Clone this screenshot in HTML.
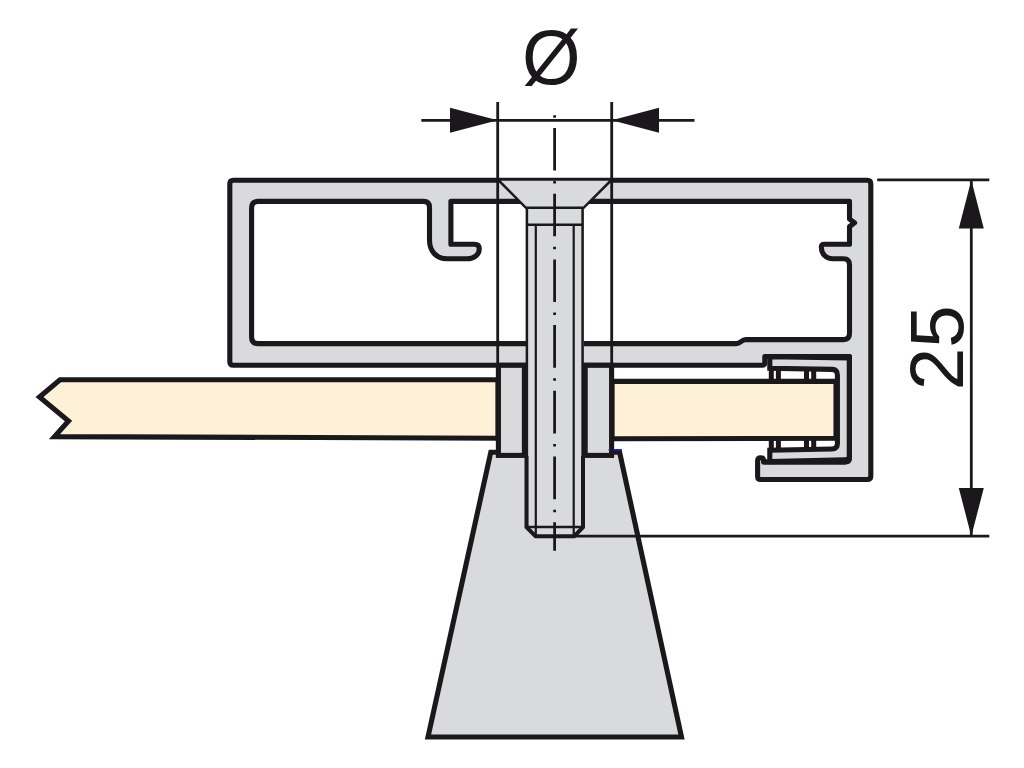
<!DOCTYPE html>
<html lang="en">
<head>
<meta charset="utf-8">
<title>Ø 25 – profile mounting section</title>
<style>
  html,body{margin:0;padding:0;background:#fff;overflow:hidden}
  body{width:1024px;height:768px;font-family:"Liberation Sans",sans-serif}
  svg{display:block}
  .k{stroke:#1b181c;stroke-width:5.1;stroke-linejoin:round;stroke-linecap:butt}
  .mi{stroke-linejoin:miter;stroke-miterlimit:10}
  .g{fill:#d9dadb}
  .c{fill:#fff0d8}
  .n{fill:none}
  .t{stroke:#1b181c;stroke-width:2.8;fill:none}
  .s{stroke:#1b181c;stroke-width:2.5;fill:none}
  .b{fill:#1b181c}
  text{font-family:"Liberation Sans",sans-serif;fill:#1b181c}
</style>
</head>
<body>
<svg width="1024" height="768" viewBox="0 0 1024 768">
  <rect width="1024" height="768" fill="#fff"/>

  <!-- base (foot) -->
  <path class="k g mi" d="M490.8 452.2 L619.6 452.2 L681.5 737 L428 737 Z"/>

  <!-- panel left -->
  <path class="k c mi" d="M498 379.8 L60 379.8 L39.5 397 L68.5 421 L54.5 436.6 L498 438.2 Z"/>
  <!-- panel right -->
  <path class="k c mi" d="M612 381.4 L836 381.4 L836 438.3 L612 438.7 Z"/>

  <!-- aluminium profile -->
  <path class="k g" fill-rule="evenodd" d="
    M233.4 180.3 H867.2 Q870.8 180.3 870.8 183.9 V475.9 Q870.8 479.5 867.2 479.5 H760.6 Q757.6 479.5 757.6 476.5 V461
    Q757.6 457.8 760.6 457.8 Q763.6 457.8 763.6 461 V462 H845 Q849.4 462 849.4 457.6 V356.5 H764.8 V362.7 Q764.8 365.3 762 365.3
    H233.4 Q229.8 365.3 229.8 361.7 V183.9 Q229.8 180.3 233.4 180.3 Z
    M258 201.4 Q251.6 201.4 251.6 207.8 V337.2 Q251.6 343.6 258 343.6 H736 Q738.6 343.6 741 341.6 Q743.4 339.6 746 339.6
    H843.6 Q849.5 339.6 849.5 333.6 V264.7 Q849.5 258.75 843.5 258.75 H833 C826 258.75 821.3 254 821.3 247.2 Q821.3 244.2 824.3 244.2 H849.5
    V226.6 L854.6 222.8 L849.5 219 V201.4 H450.9 V244.2 H474.5 Q479.3 244.2 479.3 249 C479.3 254.5 474 258.75 467 258.75 H447
    C436 258.75 429.5 251 429.5 240 V207.4 Q429.5 201.4 423.5 201.4 Z"/>

  <!-- gasket in pocket -->
  <path class="k g mi" fill-rule="evenodd" d="M769.8 356.8 L849.4 358 V456.5 Q849.4 459.6 845 459.7 L769.8 461.6 V450.3 L832 449 Q837.4 448.8 837.4 443.4 V375 Q837.4 369.6 832 369.4 L769.8 368.2 Z"/>
  <path class="k n" style="stroke-width:5" d="M771.3 368 V381.4 M778.4 368.5 V381.4 M806.5 369 V381.4 M813.7 369 V381.4 M771.3 438.4 V451 M778.4 438.4 V450 M806.5 438.4 V449.6 M813.7 438.4 V449.4"/>
  <path class="k n" d="M763.6 462 H845 Q849.4 462 849.4 457.6 V356.5 H764.8"/>

  <!-- screw body fill -->
  <path class="g" d="M498 179.4 H612 L584 207.8 V527.5 L575 536.2 H535 L526 527.5 V207.8 Z"/>
  <!-- spacer sleeves -->
  <rect class="k g mi" x="498.4" y="365.3" width="26" height="90.1"/>
  <rect class="k g mi" x="585.2" y="365.3" width="26.4" height="90.1"/>

  <!-- screw -->
  <path class="s" d="M497.7 179.4 H612 L583.6 207.8 H525.9 Z M526.9 207.8 V527.5 M582.6 207.8 V527.5 M526.9 224.7 H582.6 M526.9 527 H582.6"/>
  <path class="s" style="stroke-width:2.2" d="M535.8 224.7 V536 M573.7 224.7 V536"/>
  <path class="s mi" style="stroke-width:4" d="M526.5 456 V527.2 L535.6 536.2 H574.3 L583 527.2 V456"/>
  <path d="M608.6 449.9 H621.8" stroke="#1f1fc0" stroke-width="1.8" fill="none"/>

  <!-- extension lines for diameter -->
  <path class="t" d="M497.7 102 V455 M611.7 102 V455"/>
  <!-- diameter dimension -->
  <path class="t" d="M421.3 120.3 H694.5"/>
  <path class="b" d="M497.7 120.3 L450 107.8 V132.8 Z M611.7 120.3 L659 107.8 V132.8 Z"/>
  <!-- centre line -->
  <path class="t" stroke-dasharray="2.4 10.2 42.6 10.54" d="M554.6 115.3 V550.8"/>

  <!-- height dimension -->
  <path class="t" d="M877.2 179.9 H989.3 M576 536.2 H989.3"/>
  <path class="t" d="M971.3 180 V536"/>
  <path class="b" d="M971.3 179.9 L958.8 228.4 H983.8 Z M971.3 536.2 L958.8 488 H983.8 Z"/>

  <text id="dia" x="551.2" y="83.2" font-size="75.3" text-anchor="middle" transform="translate(0 56.8) scale(1 1.03) translate(0 -56.8)">Ø</text>
  <text id="h25" x="0" y="0" font-size="76.4" text-anchor="middle" transform="translate(962.6 347.8) rotate(-90)">25</text>
</svg>
</body>
</html>
